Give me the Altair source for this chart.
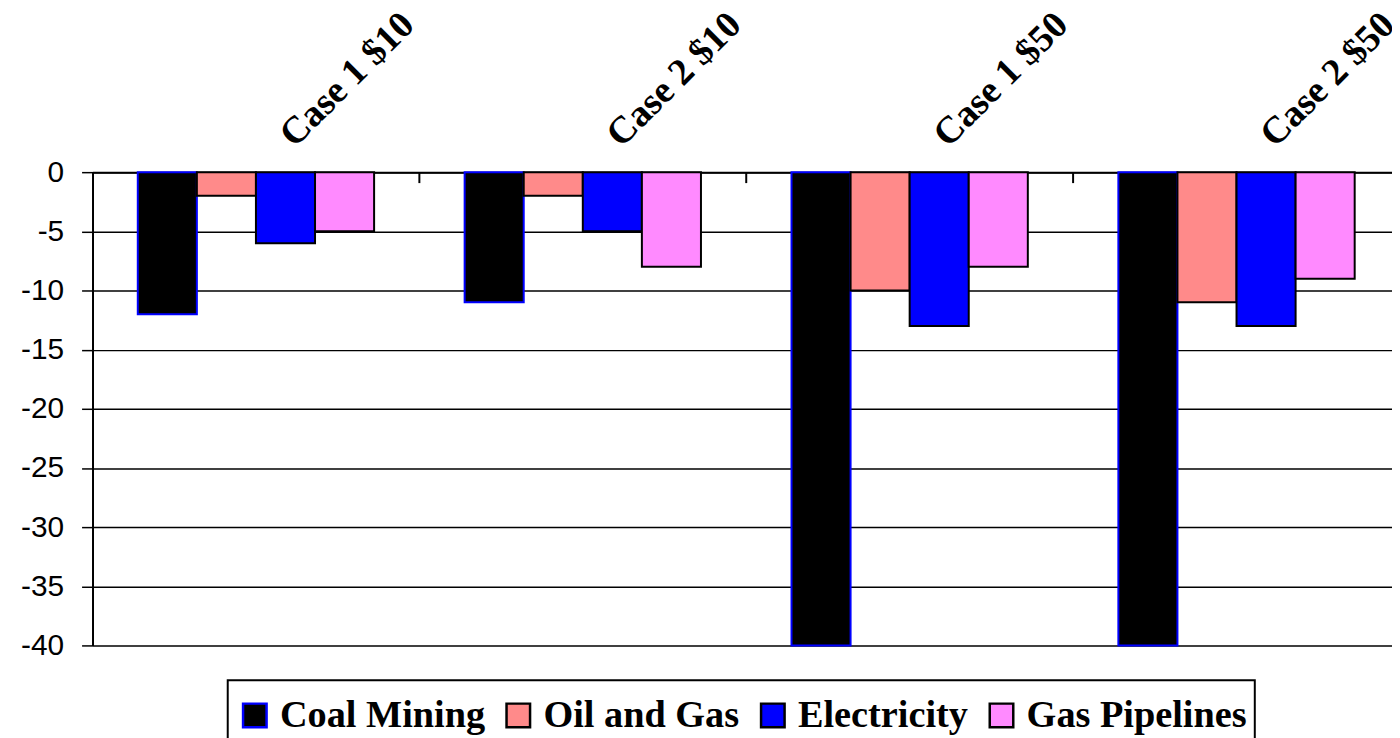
import altair as alt
import pandas as pd

categories = ["Case 1 $10", "Case 2 $10", "Case 1 $50", "Case 2 $50"]
series = ["Coal Mining", "Oil and Gas", "Electricity", "Gas Pipelines"]
coal = [-12, -11, -40, -40]
oil = [-2, -2, -10, -11]
elec = [-6, -5, -13, -13]
pipes = [-5, -8, -8, -9]
fill_colors = ["#000000", "#FF8A8A", "#0000FF", "#FF8AFF"]
stroke_colors = ["#0000FF", "#000000", "#000000", "#000000"]
y_ticks = [0, -5, -10, -15, -20, -25, -30, -35, -40]

rows = []
for name, vals in zip(series, [coal, oil, elec, pipes]):
    for c, v in zip(categories, vals):
        rows.append({"category": c, "series": name, "value": v})
df = pd.DataFrame(rows)
tick_df = pd.DataFrame({"category": categories[1:]})

WIDTH = 1315
PAD_IN = 0.277
xscale = alt.Scale(domain=categories, paddingInner=PAD_IN, paddingOuter=PAD_IN / 2)

bars = alt.Chart(df).mark_bar(strokeWidth=2).encode(
    x=alt.X("category:N", scale=xscale, sort=categories,
            axis=alt.Axis(orient="top", title=None, labelAngle=-45,
                          labelAlign="left", labelBaseline="middle",
                          labelFont="Liberation Serif", labelFontWeight="bold",
                          labelFontSize=38, labelColor="black", labelPadding=32,
                          labelOffset=31,
                          ticks=False, domain=True, domainColor="black",
                          domainWidth=2, grid=False)),
    xOffset=alt.XOffset("series:N", sort=series, scale=alt.Scale(domain=series)),
    y=alt.Y("value:Q", scale=alt.Scale(domain=[-40, 0], nice=False),
            axis=alt.Axis(title=None, values=y_ticks, grid=True, gridColor="black",
                          gridWidth=1.5, gridOpacity=1, domainColor="black",
                          domainWidth=2, tickColor="black", tickWidth=1.5,
                          tickSize=11, labelFont="Liberation Sans",
                          labelExpr="datum.value + ''",
                          labelFontSize=30, labelColor="black", labelPadding=18)),
    fill=alt.Fill("series:N", scale=alt.Scale(domain=series, range=fill_colors),
                  legend=alt.Legend(title=" ")),
    stroke=alt.Stroke("series:N", scale=alt.Scale(domain=series, range=stroke_colors),
                      legend=alt.Legend(title=" ")),
)

# category separator ticks, placed midway between neighbouring bands
half_gap = (WIDTH / len(categories)) * PAD_IN / 2
ticks = alt.Chart(tick_df).mark_rule(color="black", strokeWidth=2, xOffset=-half_gap).encode(
    x=alt.X("category:N", bandPosition=0, scale=xscale, sort=categories),
    y=alt.value(0),
    y2=alt.value(11),
)

chart = alt.layer(bars, ticks).properties(
    width=WIDTH, height=476,
    autosize=alt.AutoSizeParams(type="none"),
    padding={"left": 85, "top": 163, "right": -8, "bottom": 91},
).configure_view(stroke=None).configure_legend(
    orient="none", legendX=136, legendY=511, direction="horizontal",
    strokeColor="black", strokeWidth=2, padding=8, fillColor="white",
    titleFontSize=1, titlePadding=7, titleOrient="top",
    symbolType="square", symbolSize=560, symbolStrokeWidth=2.5, symbolOpacity=1,
    labelFont="Liberation Serif", labelFontWeight="bold", labelFontSize=38.5,
    labelColor="black", labelOffset=6, columnPadding=14, labelLimit=0,
)

chart.save("out.html", embed_options={"renderer": "svg", "actions": False})
